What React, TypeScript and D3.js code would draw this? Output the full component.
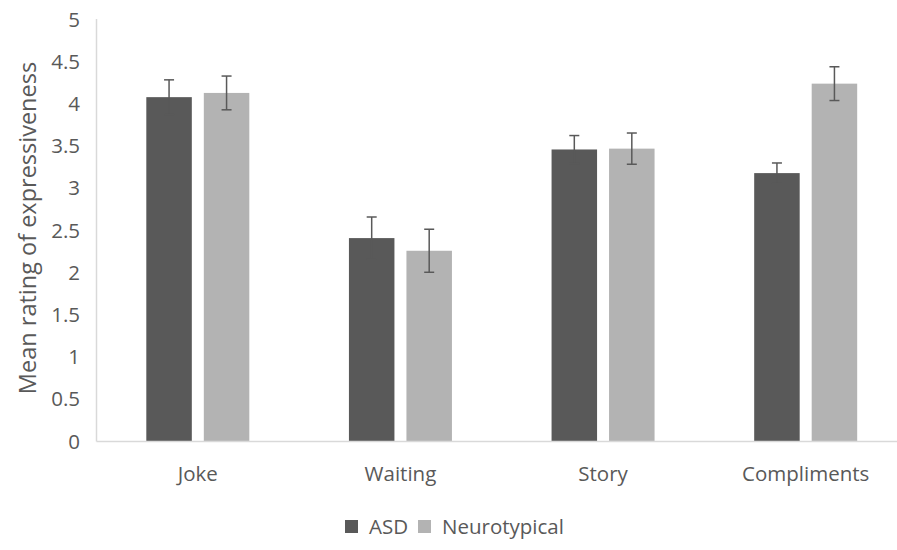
import React from "react";
import * as d3 from "d3";

const categories = ["Joke", "Waiting", "Story", "Compliments"];
const seriesNames = ["ASD", "Neurotypical"];
const asdValues = [4.08, 2.41, 3.46, 3.18];
const asdErrors = [0.205, 0.25, 0.165, 0.12];
const ntValues = [4.13, 2.26, 3.47, 4.24];
const ntErrors = [0.2, 0.255, 0.185, 0.2];
const yTicks = [0, 0.5, 1, 1.5, 2, 2.5, 3, 3.5, 4, 4.5, 5];
const colors = ["#595959", "#b3b3b3"];

const W = 897;
const H = 550;
const FONT = "'Open Sans', sans-serif";
const TEXT = "#595959";
const FS = 20.5;

export default function App() {
  const y = d3.scaleLinear().domain([0, 5]).range([441.5, 19.5]);
  const x0 = d3.scaleBand().domain(categories).range([96.5, 907]).paddingInner(0).paddingOuter(0);
  const x1 = d3.scaleBand().domain(seriesNames).range([0, 103]).paddingInner(0.2087).paddingOuter(0);
  const series = [
    { name: seriesNames[0], values: asdValues, errors: asdErrors },
    { name: seriesNames[1], values: ntValues, errors: ntErrors },
  ];
  const groupOffset = (x0.bandwidth() - 103) / 2;

  return (
    <svg width={W} height={H} style={{ position: "absolute", left: 0, top: 0 }}>
      <rect width={W} height={H} fill="#fff" />
      {yTicks.map((t) => (
        <text key={t} x={80} y={y(t)} dy="0.35em" textAnchor="end" fontFamily={FONT} fontSize={FS} fill={TEXT}>
          {d3.format("~g")(t)}
        </text>
      ))}
      <text
        transform={`translate(28,${228}) rotate(-90)`}
        textAnchor="middle"
        dy="0.35em"
        fontFamily={FONT}
        fontSize={23.5}
        fill={TEXT}
      >
        Mean rating of expressiveness
      </text>
      {categories.map((c, i) => (
        <g key={c} transform={`translate(${(x0(c) as number) + groupOffset},0)`}>
          {series.map((s, j) => {
            const bx = x1(s.name) as number;
            const bw = x1.bandwidth();
            const v = s.values[i];
            const e = s.errors[i];
            const cx = bx + bw / 2;
            return (
              <g key={s.name}>
                <rect x={bx} y={y(v)} width={bw} height={y(0) - y(v)} fill={colors[j]} />
                <line x1={cx} x2={cx} y1={y(v + e)} y2={y(v - e)} stroke="#595959" strokeWidth={1.5} />
                <line x1={cx - 5} x2={cx + 5} y1={y(v + e)} y2={y(v + e)} stroke="#595959" strokeWidth={1.5} />
                <line x1={cx - 5} x2={cx + 5} y1={y(v - e)} y2={y(v - e)} stroke="#595959" strokeWidth={1.5} />
              </g>
            );
          })}
        </g>
      ))}
      <line x1={96.5} x2={96.5} y1={19} y2={441.5} stroke="#d9d9d9" strokeWidth={1.5} />
      <line x1={96.5} x2={907} y1={441.5} y2={441.5} stroke="#d9d9d9" strokeWidth={1.5} />
      {categories.map((c) => (
        <text key={c} x={(x0(c) as number) + x0.bandwidth() / 2} y={474} dy="0.35em" textAnchor="middle" fontFamily={FONT} fontSize={FS} fill={TEXT}>
          {c}
        </text>
      ))}
      <rect x={345} y={520} width={13} height={13} fill={colors[0]} />
      <text x={369} y={527} dy="0.35em" fontFamily={FONT} fontSize={FS} fill={TEXT}>{seriesNames[0]}</text>
      <rect x={418} y={520} width={13} height={13} fill={colors[1]} />
      <text x={442} y={527} dy="0.35em" fontFamily={FONT} fontSize={FS} fill={TEXT}>{seriesNames[1]}</text>
    </svg>
  );
}
